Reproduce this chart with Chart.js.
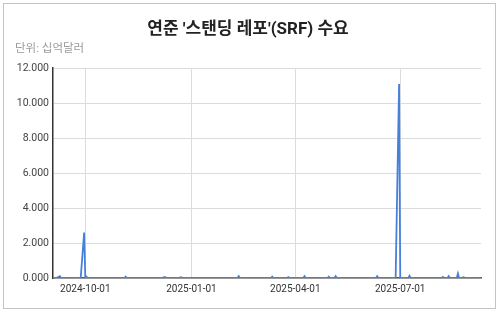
<!DOCTYPE html>
<html>
<head>
<meta charset="utf-8">
<script src="https://cdn.jsdelivr.net/npm/chart.js@4"></script>
<style>
  html, body { margin: 0; padding: 0; background: #fff; }
  body { width: 500px; height: 312px; position: relative; overflow: hidden; }
  #card { position: absolute; left: 3px; top: 3px; width: 491px; height: 304px; border: 1px solid #c4c4c4; background: #fff; }
  #wrap { position: absolute; left: 0; top: 0; width: 500px; height: 312px; }
</style>
</head>
<body>
<div id="card"></div>
<div id="wrap"><canvas id="c" width="500" height="312"></canvas></div>
<script>
// ---- data (billions of dollars) ----
const dates = [
  '2024-09-03','2024-09-06','2024-09-09','2024-09-10',
  '2024-09-27','2024-09-30','2024-10-01','2024-10-02','2024-10-03',
  '2024-11-04','2024-11-05','2024-11-06',
  '2024-12-06','2024-12-09','2024-12-10',
  '2024-12-20','2024-12-23','2024-12-24',
  '2025-02-10','2025-02-11','2025-02-12',
  '2025-03-11','2025-03-12','2025-03-13',
  '2025-03-25','2025-03-26','2025-03-27',
  '2025-04-08','2025-04-09','2025-04-10',
  '2025-04-29','2025-04-30','2025-05-01',
  '2025-05-05','2025-05-06','2025-05-07',
  '2025-06-10','2025-06-11','2025-06-12',
  '2025-06-27','2025-06-30','2025-07-01',
  '2025-07-08','2025-07-09','2025-07-10',
  '2025-08-06','2025-08-07','2025-08-08',
  '2025-08-11','2025-08-12','2025-08-13',
  '2025-08-19','2025-08-20','2025-08-21',
  '2025-08-22','2025-08-25','2025-08-26',
  '2025-09-09'
];
const values = [
  0, 0, 0.10, 0,
  0, 2.60, 0, 0.08, 0,
  0, 0.08, 0,
  0, 0.06, 0,
  0, 0.05, 0,
  0, 0.10, 0,
  0, 0.08, 0,
  0, 0.05, 0,
  0, 0.10, 0,
  0, 0.08, 0,
  0, 0.10, 0,
  0, 0.10, 0,
  0, 11.10, 0,
  0, 0.12, 0,
  0, 0.06, 0,
  0, 0.10, 0,
  0, 0.25, 0,
  0, 0.05, 0,
  0
];
const tickDates = ['2024-10-01','2025-01-01','2025-04-01','2025-07-01'];
const yTicks = [0, 2, 4, 6, 8, 10, 12];
const titleText = "연준 '스탠딩 레포'(SRF) 수요";
const subtitleText = '단위: 십억달러';

const dayNum = s => Date.UTC(+s.slice(0,4), +s.slice(5,7) - 1, +s.slice(8,10)) / 86400000;
const dayStr = n => new Date(n * 86400000).toISOString().slice(0, 10);
const points = dates.map((d, i) => ({ x: dayNum(d), y: values[i] }));

const FONT = "Roboto, 'Noto Sans CJK KR', sans-serif";

new Chart(document.getElementById('c'), {
  type: 'line',
  data: {
    datasets: [{
      data: points,
      borderColor: '#4580dc',
      borderWidth: 1.8,
      pointRadius: 0,
      tension: 0,
      fill: false
    }]
  },
  options: {
    responsive: false,
    animation: false,
    events: [],
    layout: { padding: { left: 15, right: 19, top: 20, bottom: 10 } },
    plugins: {
      legend: { display: false },
      tooltip: { enabled: false },
      title: {
        display: true, text: titleText, align: 'center', color: '#222',
        font: { family: FONT, size: 17, weight: 'bold' },
        padding: { top: 0, bottom: 2 }
      },
      subtitle: {
        display: true, text: subtitleText, align: 'start', color: '#9a9a9a',
        font: { family: FONT, size: 11.5 },
        padding: { top: 0, bottom: 12 }
      }
    },
    scales: {
      x: {
        type: 'linear',
        min: dayNum(dates[0]),
        max: dayNum(dates[dates.length - 1]),
        afterBuildTicks: s => { s.ticks = tickDates.map(d => ({ value: dayNum(d) })); },
        afterFit: s => { s.height = 24; },
        ticks: {
          callback: v => dayStr(v), color: '#333', padding: 5, maxRotation: 0,
          font: { family: FONT, size: 10 }
        },
        grid: { color: '#dcdcdc', lineWidth: 1, drawTicks: false },
        border: { display: true, color: '#555', width: 1.5 }
      },
      y: {
        min: 0, max: 12,
        afterBuildTicks: s => { s.ticks = yTicks.map(v => ({ value: v })); },
        afterFit: s => { s.width = 38; },
        ticks: {
          callback: v => v.toFixed(3), color: '#444', padding: 4,
          font: { family: FONT, size: 10.5 }
        },
        grid: { color: '#dcdcdc', lineWidth: 1, drawTicks: false },
        border: { display: true, color: '#333', width: 1.5 }
      }
    }
  }
});
</script>
</body>
</html>
